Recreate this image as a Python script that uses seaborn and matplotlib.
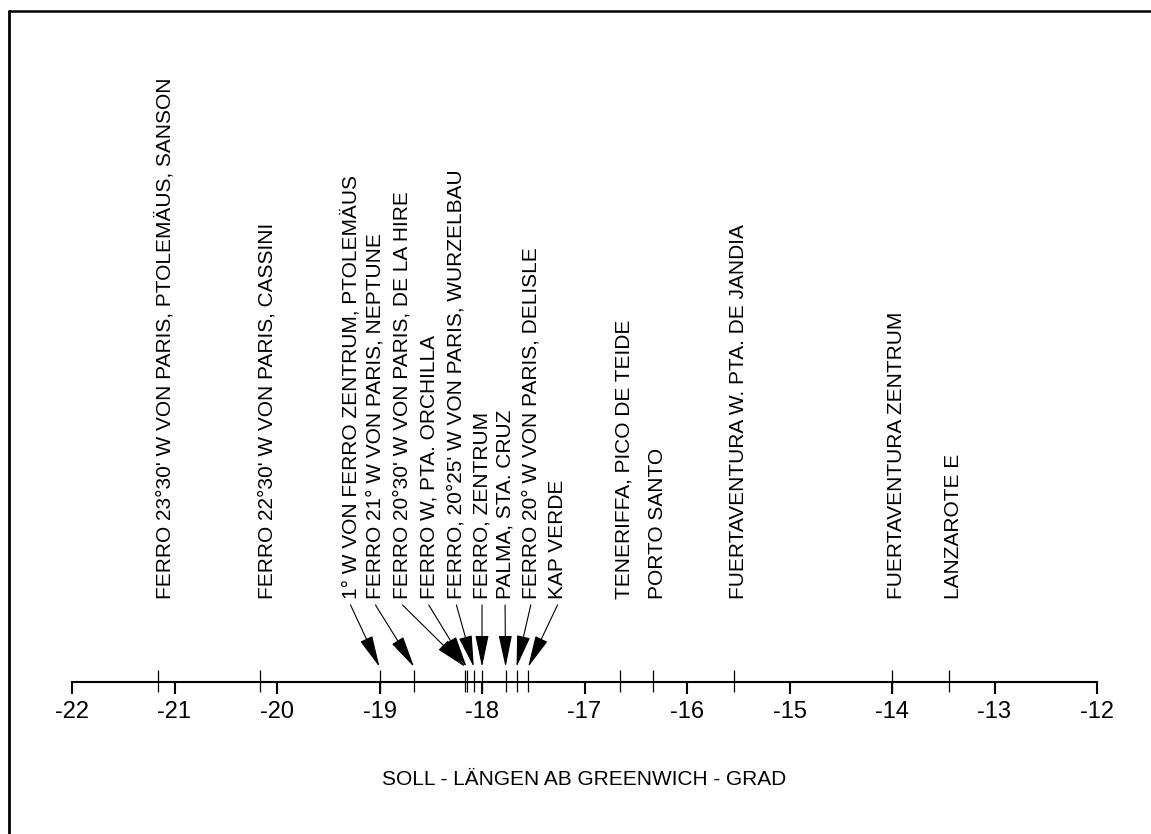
import matplotlib
matplotlib.use("Agg")
import matplotlib.pyplot as plt
import seaborn as sns
from matplotlib.lines import Line2D

# Soll-Längen ab Greenwich (Grad)
labels = [
    "FERRO 23°30' W VON PARIS, PTOLEMÄUS, SANSON",
    "FERRO 22°30' W VON PARIS, CASSINI",
    "1° W VON FERRO ZENTRUM, PTOLEMÄUS",
    "FERRO 21° W VON PARIS, NEPTUNE",
    "FERRO 20°30' W VON PARIS, DE LA HIRE",
    "FERRO W, PTA. ORCHILLA",
    "FERRO, 20°25' W VON PARIS, WURZELBAU",
    "FERRO, ZENTRUM",
    "PALMA, STA. CRUZ",
    "FERRO 20° W VON PARIS, DELISLE",
    "KAP VERDE",
    "TENERIFFA, PICO DE TEIDE",
    "PORTO SANTO",
    "FUERTAVENTURA W. PTA. DE JANDIA",
    "FUERTAVENTURA ZENTRUM",
    "LANZAROTE E",
]
longitudes = [-21.163, -20.163, -19.0, -18.663, -18.163, -18.15, -18.08, -18.0,
              -17.77, -17.663, -17.55, -16.65, -16.33, -15.54, -14.0, -13.44]
major_ticks = list(range(-22, -11))
xlabel = "SOLL - LÄNGEN AB GREENWICH - GRAD"

# where each vertical label sits (crowded ones are spread out and get an arrow)
label_x = [-21.10, -20.10, -19.283, -19.04, -18.776, -18.52, -18.25, -18.0,
           -17.775, -17.524, -17.263, -16.61, -16.29, -15.50, -13.96, -13.40]
has_arrow = [False, False, True, True, True, True, True, True, True, True, True,
             False, False, False, False, False]

sns.set_style("white")
plt.rcParams['font.family'] = ['Liberation Sans', 'DejaVu Sans']
plt.rcParams['text.color'] = 'black'
plt.rcParams['axes.labelcolor'] = 'black'
plt.rcParams['xtick.color'] = 'black'

fig = plt.figure(figsize=(11.51, 8.34), dpi=100)
ax = fig.add_axes([72 / 1151, (834 - 681.7) / 834, 1025 / 1151, 600 / 834])

for s in ['top', 'left', 'right']:
    ax.spines[s].set_visible(False)
ax.spines['bottom'].set_linewidth(1.5)
ax.spines['bottom'].set_color('black')
ax.spines['bottom'].set_bounds(-22, -12)

# small marks crossing the axis at each location
sns.rugplot(x=longitudes, height=0.0195, ax=ax, color='black', linewidth=0.9,
            expand_margins=False, clip_on=False)
sns.rugplot(x=longitudes, height=-0.017, ax=ax, color='black', linewidth=0.9,
            expand_margins=False, clip_on=False)

ax.set_xlim(-22, -12)
ax.set_ylim(0, 1)
ax.set_xticks(major_ticks)
ax.set_xticklabels([str(t) for t in major_ticks])
ax.set_yticks([])
ax.tick_params(axis='x', direction='out', length=8.6, width=1.5, color='black',
               labelcolor='black', labelsize=17, pad=5.0, bottom=True)
ax.set_xlabel(xlabel, fontsize=15, labelpad=34, color='black')

trans = ax.get_xaxis_transform()
for lab, lon, lx, arr in zip(labels, longitudes, label_x, has_arrow):
    ax.text(lx, 0.138, lab, rotation=90, ha='center', va='bottom',
            fontsize=15, color='black', transform=trans)
    if arr:
        ax.annotate('', xy=(lon, 0.0245), xycoords=trans,
                    xytext=(lx, 0.128), textcoords=trans,
                    arrowprops=dict(arrowstyle='-|>,head_length=2.0,head_width=0.42',
                                    color='black', lw=0.8, shrinkA=0, shrinkB=0,
                                    mutation_scale=10))

# frame (only left and top edges are inside the picture)
fig.add_artist(Line2D([8.7 / 1151, 8.7 / 1151], [0, 1 - 10.5 / 834],
                      transform=fig.transFigure, color='black', lw=2))
fig.add_artist(Line2D([8.7 / 1151, 1], [1 - 10.5 / 834, 1 - 10.5 / 834],
                      transform=fig.transFigure, color='black', lw=1.8))

fig.savefig("out.png", dpi=100)
